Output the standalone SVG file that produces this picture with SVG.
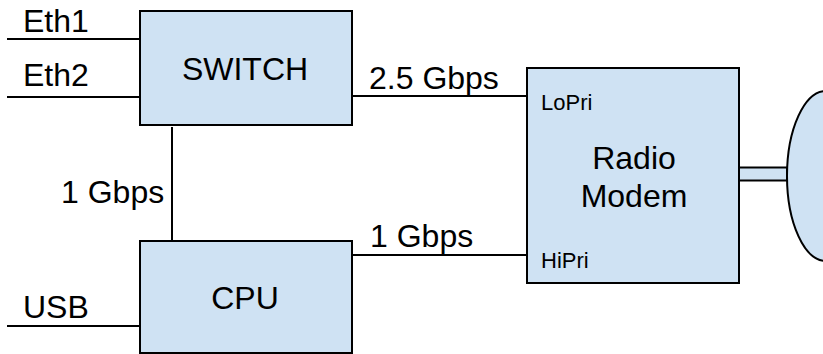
<svg xmlns="http://www.w3.org/2000/svg" width="823" height="354" viewBox="0 0 823 354">
<style>
.box{fill:#cfe2f3;stroke:#000;stroke-width:2}
.ln{stroke:#000;stroke-width:2;fill:none}
.t{font-family:"Liberation Sans",Arial,sans-serif;font-size:32px;fill:#000}
.s{font-family:"Liberation Sans",Arial,sans-serif;font-size:22px;fill:#000}
.m{text-anchor:middle}
</style>
<rect width="823" height="354" fill="#fff"/>
<g id="connectors">
<line class="ln" x1="7" y1="39" x2="140" y2="39"/>
<line class="ln" x1="7" y1="97" x2="140" y2="97"/>
<line class="ln" x1="7" y1="326" x2="140" y2="326"/>
<line class="ln" x1="172" y1="127" x2="172" y2="242"/>
<line class="ln" x1="352" y1="96" x2="526" y2="96"/>
<line class="ln" x1="352" y1="255" x2="526" y2="255"/>
<rect class="box" x="739" y="167.5" width="48" height="13"/>
<text class="t" x="23" y="32">Eth1</text>
<text class="t" x="23" y="86">Eth2</text>
<text class="t" x="23" y="318">USB</text>
<text class="t" x="61" y="203">1 Gbps</text>
<text class="t" x="369" y="89">2.5 Gbps</text>
<text class="t" x="370" y="247">1 Gbps</text>
</g>
<g id="switch">
<rect class="box" x="140" y="11" width="212" height="114"/>
<text class="t m" x="245" y="80">SWITCH</text>
</g>
<g id="cpu">
<rect class="box" x="140" y="241" width="212" height="112"/>
<text class="t m" x="245" y="309">CPU</text>
</g>
<g id="modem">
<rect class="box" x="527" y="68" width="212" height="215"/>
<text class="s" x="541" y="110">LoPri</text>
<text class="s" x="541" y="268">HiPri</text>
<text class="t m" x="634" y="169">Radio</text>
<text class="t m" x="634" y="207">Modem</text>
</g>
<g id="antenna">
<ellipse class="box" cx="826" cy="176" rx="39" ry="85"/>
</g>
</svg>
